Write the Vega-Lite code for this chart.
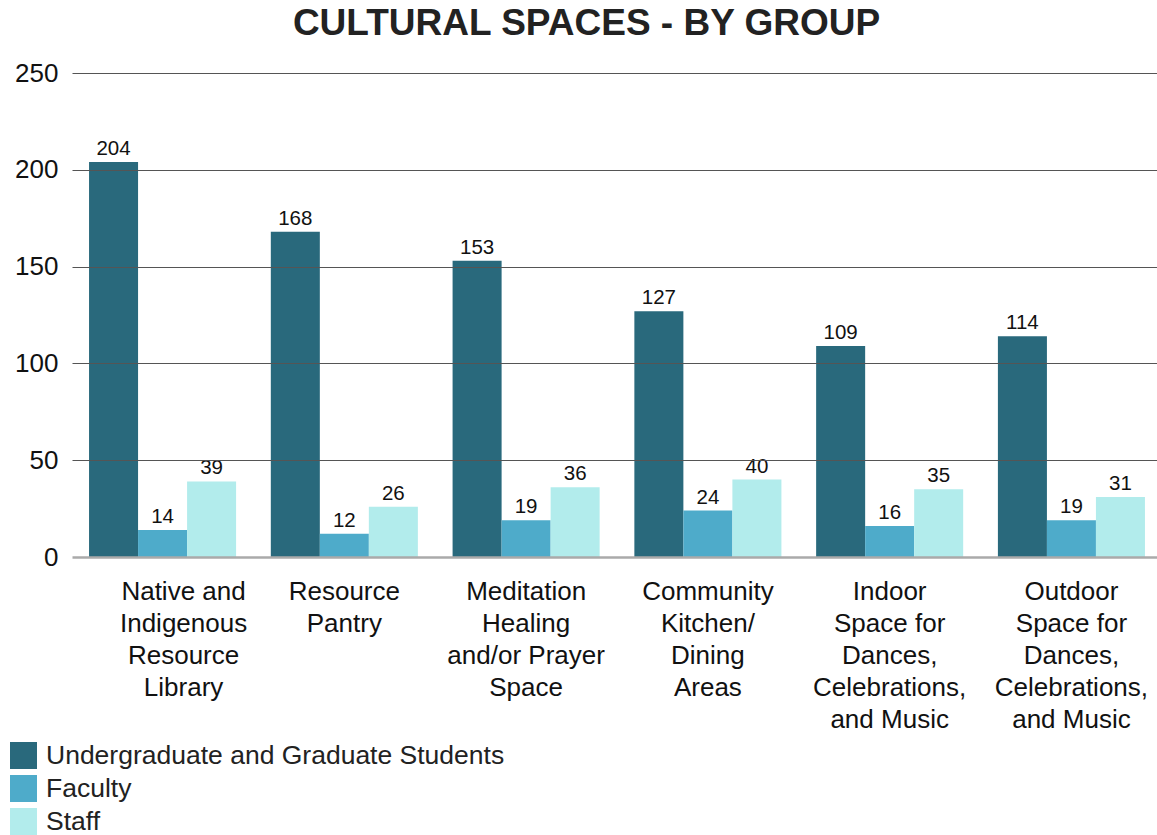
{
  "$schema": "https://vega.github.io/schema/vega-lite/v6.json",
  "width": 1085,
  "height": 484,
  "autosize": {"type": "none"},
  "padding": {"left": 72, "top": 73, "right": 0, "bottom": 278},
  "background": "white",
  "title": {
    "text": "CULTURAL SPACES - BY GROUP",
    "font": "Liberation Sans",
    "fontSize": 37,
    "fontWeight": "bold",
    "color": "#222222",
    "anchor": "middle",
    "dx": -28,
    "baseline": "alphabetic",
    "offset": -12
  },
  "config": {
    "view": {"stroke": null},
    "font": "Liberation Sans"
  },
  "data": {
    "values": [
      {"space": "Native and Indigenous Resource Library", "group": "Undergraduate and Graduate Students", "count": 204},
      {"space": "Native and Indigenous Resource Library", "group": "Faculty", "count": 14},
      {"space": "Native and Indigenous Resource Library", "group": "Staff", "count": 39},
      {"space": "Resource Pantry", "group": "Undergraduate and Graduate Students", "count": 168},
      {"space": "Resource Pantry", "group": "Faculty", "count": 12},
      {"space": "Resource Pantry", "group": "Staff", "count": 26},
      {"space": "Meditation Healing and/or Prayer Space", "group": "Undergraduate and Graduate Students", "count": 153},
      {"space": "Meditation Healing and/or Prayer Space", "group": "Faculty", "count": 19},
      {"space": "Meditation Healing and/or Prayer Space", "group": "Staff", "count": 36},
      {"space": "Community Kitchen/ Dining Areas", "group": "Undergraduate and Graduate Students", "count": 127},
      {"space": "Community Kitchen/ Dining Areas", "group": "Faculty", "count": 24},
      {"space": "Community Kitchen/ Dining Areas", "group": "Staff", "count": 40},
      {"space": "Indoor Space for Dances, Celebrations, and Music", "group": "Undergraduate and Graduate Students", "count": 109},
      {"space": "Indoor Space for Dances, Celebrations, and Music", "group": "Faculty", "count": 16},
      {"space": "Indoor Space for Dances, Celebrations, and Music", "group": "Staff", "count": 35},
      {"space": "Outdoor Space for Dances, Celebrations, and Music", "group": "Undergraduate and Graduate Students", "count": 114},
      {"space": "Outdoor Space for Dances, Celebrations, and Music", "group": "Faculty", "count": 19},
      {"space": "Outdoor Space for Dances, Celebrations, and Music", "group": "Staff", "count": 31}
    ]
  },
  "encoding": {
    "x": {
      "field": "space",
      "type": "nominal",
      "sort": null,
      "scale": {"paddingInner": 0.191, "paddingOuter": 0.08, "align": 0.586},
      "axis": {
        "title": null,
        "labelAngle": 0,
        "labelFontSize": 26,
        "labelLineHeight": 32,
        "labelColor": "#111111",
        "labelPadding": 21,
        "labelBaseline": "top",
        "labelOffset": {"condition": {"test": "datum.index == 0", "value": 21}, "value": 0},
        "ticks": false,
        "domain": false,
        "labelLimit": 300,
        "labelExpr": "{'Native and Indigenous Resource Library': ['Native and', 'Indigenous', 'Resource', 'Library'], 'Resource Pantry': ['Resource', 'Pantry'], 'Meditation Healing and/or Prayer Space': ['Meditation', 'Healing', 'and/or Prayer', 'Space'], 'Community Kitchen/ Dining Areas': ['Community', 'Kitchen/', 'Dining', 'Areas'], 'Indoor Space for Dances, Celebrations, and Music': ['Indoor', 'Space for', 'Dances,', 'Celebrations,', 'and Music'], 'Outdoor Space for Dances, Celebrations, and Music': ['Outdoor', 'Space for', 'Dances,', 'Celebrations,', 'and Music']}[datum.value]"
      }
    },
    "xOffset": {
      "field": "group",
      "type": "nominal",
      "sort": ["Undergraduate and Graduate Students", "Faculty", "Staff"],
      "scale": {"paddingInner": 0, "paddingOuter": 0}
    },
    "y": {
      "field": "count",
      "type": "quantitative",
      "scale": {"domain": [0, 250]},
      "axis": {
        "title": null,
        "values": [0, 50, 100, 150, 200, 250],
        "labelFontSize": 26,
        "labelColor": "#111111",
        "labelPadding": 14,
        "ticks": false,
        "domain": false,
        "zindex": 1,
        "grid": true,
        "gridColor": {"condition": {"test": "datum.value == 0", "value": "#aaaaaa"}, "value": "#555555"},
        "gridWidth": {"condition": {"test": "datum.value == 0", "value": 2.5}, "value": 1}
      }
    }
  },
  "layer": [
    {
      "mark": {"type": "bar"},
      "encoding": {
        "color": {
          "field": "group",
          "type": "nominal",
          "sort": ["Undergraduate and Graduate Students", "Faculty", "Staff"],
          "scale": {
            "domain": ["Undergraduate and Graduate Students", "Faculty", "Staff"],
            "range": ["#29697c", "#4eabca", "#b2ecec"]
          },
          "legend": {
            "title": null,
            "orient": "none",
            "legendX": -62,
            "legendY": 669,
            "symbolType": "square",
            "symbolSize": 729,
            "symbolStrokeWidth": 0,
            "labelFontSize": 26.5,
            "labelColor": "#222222",
            "labelOffset": 9,
            "rowPadding": 6,
            "labelLimit": 600
          }
        }
      }
    },
    {
      "mark": {"type": "text", "baseline": "alphabetic", "dy": -7, "fontSize": 20.5, "color": "#111111"},
      "encoding": {
        "text": {"field": "count", "type": "quantitative"}
      }
    }
  ]
}
